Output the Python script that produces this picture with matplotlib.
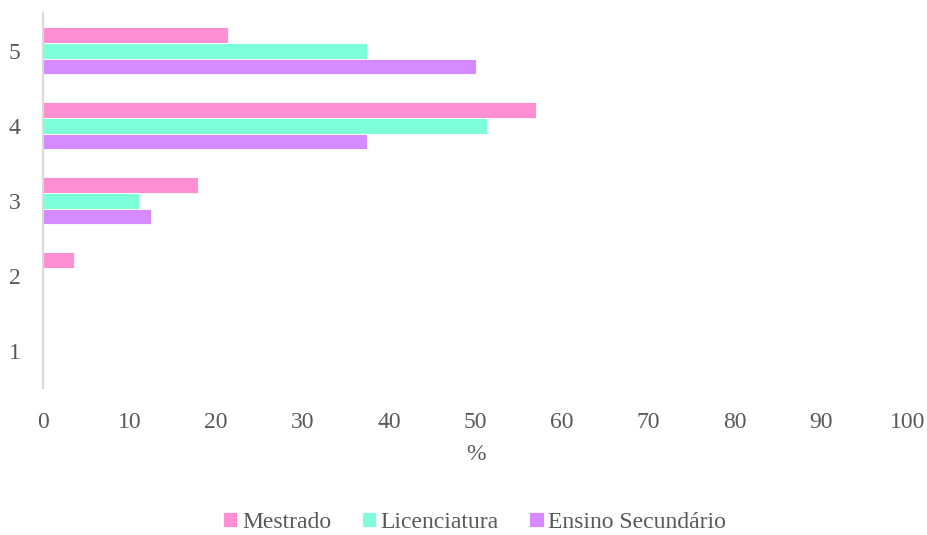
import matplotlib.pyplot as plt
import numpy as np

plt.rcParams['font.family'] = ['Liberation Serif', 'DejaVu Serif']

categories = ['1', '2', '3', '4', '5']
mestrado = [0, 3.6, 17.9, 57.0, 21.4]
licenciatura = [0, 0, 11.1, 51.3, 37.5]
ensino = [0, 0, 12.5, 37.5, 50.0]

colors = ['#FF8FD3', '#7DFFD9', '#D68AFF']
text_col = '#595959'

fig = plt.figure(figsize=(9.27, 5.35), dpi=100)
ax = fig.add_axes([0.0464, 0.274, 0.9331, 0.701])

y = np.arange(1, len(categories) + 1)
h = 0.625 / 3
ax.barh(y + h, mestrado, height=h, color=colors[0], edgecolor='white', linewidth=0.6, label='Mestrado')
ax.barh(y, licenciatura, height=h, color=colors[1], edgecolor='white', linewidth=0.6, label='Licenciatura')
ax.barh(y - h, ensino, height=h, color=colors[2], edgecolor='white', linewidth=0.6, label='Ensino Secundário')

ax.set_xlim(0, 100)
ax.set_ylim(0.5, 5.5)
ax.set_xticks(range(0, 101, 10))
ax.set_yticks(y)
ax.set_yticklabels(categories)
ax.tick_params(length=0, labelsize=17, colors=text_col)
ax.tick_params(axis='x', pad=17)
ax.tick_params(axis='y', pad=16)

for s in ['top', 'right', 'bottom']:
    ax.spines[s].set_visible(False)
ax.spines['left'].set_color('#D9D9D9')
ax.spines['left'].set_linewidth(1.5)

ax.set_xlabel('%', fontsize=17, color=text_col, labelpad=8)

leg = fig.legend(loc='center', bbox_to_anchor=(0.512, 0.024), ncol=3, frameon=False,
                 fontsize=17, handlelength=0.6, handleheight=0.6, handletextpad=0.2,
                 columnspacing=1.3)
for t in leg.get_texts():
    t.set_color(text_col)

fig.savefig('out.png', dpi=100)
